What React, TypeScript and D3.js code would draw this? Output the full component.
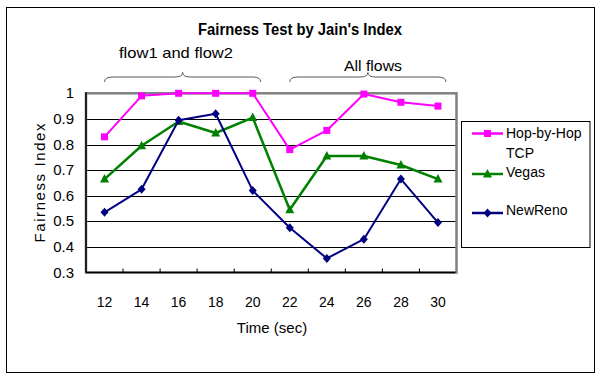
import React from "react";
import * as d3 from "d3";

const times = ["12", "14", "16", "18", "20", "22", "24", "26", "28", "30"];
const hopByHop = [0.83, 0.99, 1.0, 1.0, 1.0, 0.78, 0.855, 0.997, 0.965, 0.95];
const vegas = [0.665, 0.795, 0.89, 0.845, 0.905, 0.545, 0.755, 0.755, 0.72, 0.665];
const newReno = [0.535, 0.625, 0.895, 0.92, 0.62, 0.475, 0.355, 0.43, 0.665, 0.495];
const yTicks = [0.3, 0.4, 0.5, 0.6, 0.7, 0.8, 0.9, 1];
const seriesNames = ["Hop-by-Hop TCP", "Vegas", "NewReno"];

const W = 601;
const H = 384;
const plot = { left: 86, right: 456.5, top: 93.3, bottom: 272.5 };
const font = "'Liberation Sans', Arial, sans-serif";

function Marker({ kind, x, y, color }: { kind: string; x: number; y: number; color: string }) {
  if (kind === "square") {
    return <rect x={x - 3.5} y={y - 3.5} width={7} height={7} fill={color} />;
  }
  if (kind === "triangle") {
    return <path d={`M${x},${y - 5}L${x + 4.5},${y + 3.5}L${x - 4.5},${y + 3.5}Z`} fill={color} />;
  }
  return <path d={`M${x},${y - 4.5}L${x + 4},${y}L${x},${y + 4.5}L${x - 4},${y}Z`} fill={color} />;
}

function brace(x1: number, x2: number, yt: number, ym: number, yb: number) {
  const m = (x1 + x2) / 2;
  const r = 8;
  return `M${x1},${yb}Q${x1},${ym} ${x1 + r},${ym}L${m - r},${ym}Q${m},${ym} ${m},${yt}Q${m},${ym} ${m + r},${ym}L${x2 - r},${ym}Q${x2},${ym} ${x2},${yb}`;
}

export default function App() {
  const x = d3.scaleBand<string>().domain(times).range([plot.left, plot.right]);
  const y = d3.scaleLinear().domain([0.3, 1]).range([plot.bottom, plot.top]);
  const cx = (t: string) => (x(t) as number) + x.bandwidth() / 2;
  const line = d3
    .line<number>()
    .x((_, i) => cx(times[i]))
    .y((d) => y(d));

  const series = [
    { name: seriesNames[0], data: hopByHop, color: "#FF00FF", kind: "square", width: 2 },
    { name: seriesNames[1], data: vegas, color: "#008000", kind: "triangle", width: 2.5 },
    { name: seriesNames[2], data: newReno, color: "#000080", kind: "diamond", width: 2 },
  ];

  const leftBraceX1 = cx(times[0]);
  const leftBraceX2 = cx(times[4]) + 8;
  const rightBraceX1 = cx(times[5]);
  const rightBraceX2 = cx(times[9]) + 8;

  return (
    <svg
      width={W}
      height={H}
      style={{ position: "absolute", left: 0, top: 0, background: "#fff" }}
      fontFamily={font}
    >
      <rect x={6.5} y={7.5} width={588} height={365} fill="none" stroke="#000" strokeWidth={1} />
      <text x={300} y={35} textAnchor="middle" fontWeight="bold" fontSize={16} textLength={204} lengthAdjust="spacingAndGlyphs">
        Fairness Test by Jain's Index
      </text>
      <text x={176} y={58} textAnchor="middle" fontSize={15} textLength={114} lengthAdjust="spacingAndGlyphs">
        flow1 and flow2
      </text>
      <text x={373} y={71} textAnchor="middle" fontSize={15.5} textLength={58} lengthAdjust="spacingAndGlyphs">
        All flows
      </text>
      <path d={brace(leftBraceX1, leftBraceX2, 72.5, 77, 82)} fill="none" stroke="#555" strokeWidth={1} />
      <path d={brace(rightBraceX1, rightBraceX2, 72.5, 77, 82)} fill="none" stroke="#555" strokeWidth={1} />

      {/* gridlines */}
      {yTicks.slice(1, -1).map((t) => (
        <line key={t} x1={plot.left} x2={plot.right} y1={Math.round(y(t)) + 0.5} y2={Math.round(y(t)) + 0.5} stroke="#000" strokeWidth={1} />
      ))}
      {/* plot border */}
      <rect
        x={plot.left}
        y={plot.top}
        width={plot.right - plot.left}
        height={plot.bottom - plot.top}
        fill="none"
        stroke="#808080"
        strokeWidth={2.5}
      />
      <line x1={plot.left} x2={plot.left} y1={plot.top - 1} y2={plot.bottom} stroke="#000" strokeWidth={1.5} />
      <line x1={plot.left} x2={plot.right - 1} y1={plot.bottom} y2={plot.bottom} stroke="#000" strokeWidth={1.5} />
      {times.slice(1).map((t) => (
        <line key={t} x1={(x(t) as number)} x2={(x(t) as number)} y1={plot.bottom} y2={plot.bottom - 4} stroke="#000" strokeWidth={1} />
      ))}

      {/* y tick labels */}
      {yTicks.map((t) => (
        <text key={t} x={74} y={y(t) + 5} textAnchor="end" fontSize={15} fill="#000">
          {t === 1 ? "1" : t.toFixed(1)}
        </text>
      ))}
      {/* x tick labels */}
      {times.map((t) => (
        <text key={t} x={cx(t)} y={307} textAnchor="middle" fontSize={14} fill="#000">
          {t}
        </text>
      ))}
      <text x={272} y={333} textAnchor="middle" fontSize={15}>
        Time (sec)
      </text>
      <text
        transform={`translate(45,183) rotate(-90)`}
        textAnchor="middle"
        fontSize={15}
        textLength={119}
        lengthAdjust="spacing"
      >
        Fairness Index
      </text>

      {/* series */}
      {series.map((s) => (
        <g key={s.name}>
          <path d={line(s.data) || ""} fill="none" stroke={s.color} strokeWidth={s.width} strokeLinejoin="round" />
          {s.data.map((v, i) => (
            <Marker key={i} kind={s.kind} x={cx(times[i])} y={y(v)} color={s.color} />
          ))}
        </g>
      ))}

      {/* legend */}
      <rect x={461.5} y={121.5} width={128.5} height={126} fill="none" stroke="#000" strokeWidth={1} />
      {[
        { s: series[0], ly: 133.5 },
        { s: series[1], ly: 174 },
        { s: series[2], ly: 213 },
      ].map(({ s, ly }) => (
        <g key={s.name}>
          <line x1={472} x2={503} y1={ly} y2={ly} stroke={s.color} strokeWidth={2.5} />
          <Marker kind={s.kind} x={487.5} y={ly} color={s.color} />
        </g>
      ))}
      <text x={506} y={138} fontSize={14}>Hop-by-Hop</text>
      <text x={506} y={158} fontSize={14}>TCP</text>
      <text x={506} y={177} fontSize={14}>Vegas</text>
      <text x={506} y={215} fontSize={14}>NewReno</text>
    </svg>
  );
}
